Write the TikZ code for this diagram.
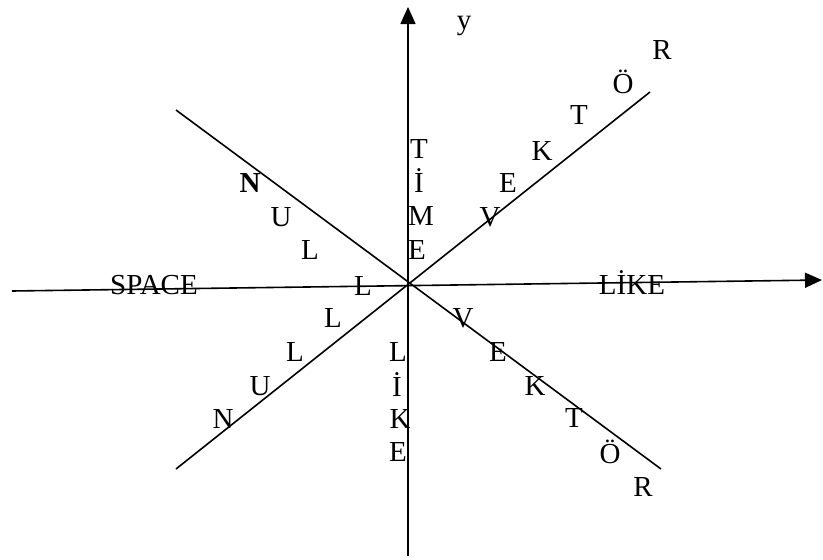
\documentclass[tikz,border=0pt]{standalone}
\usepackage{fontspec}
\setmainfont{Liberation Serif}
\usetikzlibrary{arrows.meta}
\begin{document}
\begin{tikzpicture}[x=1pt,y=-1pt,
  axisline/.style={line width=1.6pt},
  axisarrow/.style={axisline,-{Triangle[length=17pt,width=15pt]}},
  lt/.style={inner sep=0pt, text height=19.5pt, text depth=0pt, font=\fontsize{29}{31}\selectfont}]
\useasboundingbox (0,0) rectangle (823,560);
% axes
\coordinate (xl) at (12,291);
\coordinate (xr) at (822,280);
\coordinate (yb) at (408,556);
\coordinate (yt) at (408,7);
\coordinate (d1a) at (176,110);
\coordinate (d1b) at (661,469);
\coordinate (d2a) at (176,469);
\coordinate (d2b) at (650,92);
\draw[axisarrow] (xl) -- (xr);
\draw[axisarrow] (yb) -- (yt);
\draw[axisline] (d1a) -- (d1b);
\draw[axisline] (d2a) -- (d2b);
% labels
\node[lt] (ylab) at (464,20) {y};
\node[lt] (space) at (154,285) {SPACE};
\node[lt] (likeh) at (632,285) {LİKE};
% TIME
\node[lt] (t1) at (419,149) {T};
\node[lt] (t2) at (419,183) {İ};
\node[lt] (t3) at (421,216) {M};
\node[lt] (t4) at (417,250) {E};
% VEKTÖR up-right
\node[lt] (a1) at (490,217) {V};
\node[lt] (a2) at (508,183) {E};
\node[lt] (a3) at (542,151) {K};
\node[lt] (a4) at (579,115) {T};
\node[lt] (a5) at (623,84) {Ö};
\node[lt] (a6) at (662,50) {R};
% NULL upper-left
\node[lt] (n1) at (250,183) {\textbf{N}};
\node[lt] (n2) at (281,217) {U};
\node[lt] (n3) at (310,250) {L};
\node[lt] (n4) at (363,286) {L};
% NULL lower-left
\node[lt] (m1) at (223,419) {N};
\node[lt] (m2) at (260,386) {U};
\node[lt] (m3) at (295,352) {L};
\node[lt] (m4) at (333,318) {L};
% LİKE vertical
\node[lt] (l1) at (398,352) {L};
\node[lt] (l2) at (397,387) {İ};
\node[lt] (l3) at (400,419) {K};
\node[lt] (l4) at (398,452) {E};
% VEKTÖR lower-right
\node[lt] (b1) at (463,318) {V};
\node[lt] (b2) at (498,352) {E};
\node[lt] (b3) at (535,386) {K};
\node[lt] (b4) at (574,418) {T};
\node[lt] (b5) at (610,454) {Ö};
\node[lt] (b6) at (643,487) {R};
\end{tikzpicture}
\end{document}
